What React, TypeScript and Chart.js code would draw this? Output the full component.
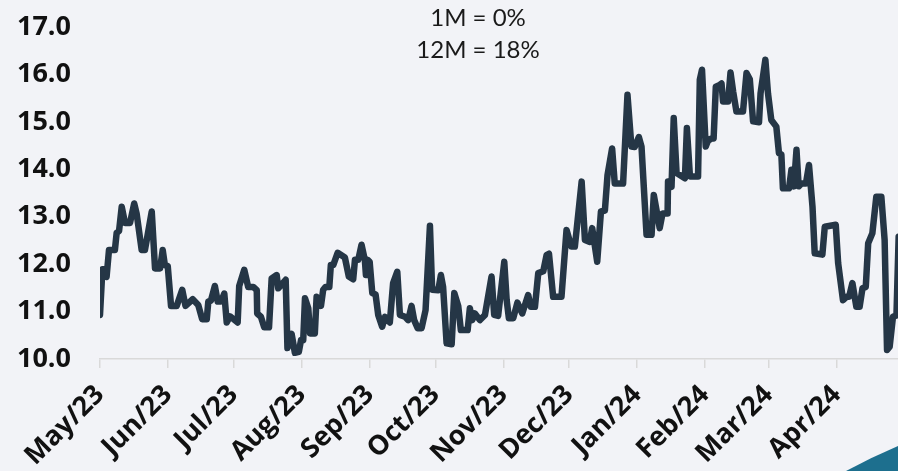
import React, { useEffect, useRef } from "react";
import { Chart, registerables } from "chart.js";

Chart.register(...registerables);

// Days since 1 May 2023 for each vertex of the line
const DAYS = [
  0, 1.1, 2.3, 3.0, 4.1, 6.8, 7.6, 8.7, 9.9, 11.4, 13.7, 15.6, 16.7, 19.0, 20.5, 21.6, 23.6, 25.1, 27.4, 28.6,
  29.6, 30.9, 32.4, 35.0, 37.5, 39.0, 42.3, 44.8, 46.6, 48.7, 49.4, 50.6, 52.4, 53.7, 55.2, 56.7, 57.8, 59.3, 62.8, 63.5,
  65.8, 67.6, 69.9, 71.5, 71.7, 73.4, 74.9, 77.1, 78.3, 80.6, 81.3, 84.7, 85.5, 87.4, 88.9, 90.7, 91.7, 92.7, 93.5, 95.0,
  95.8, 98.0, 98.8, 100.8, 101.8, 102.9, 104.6, 105.3, 106.4, 108.4, 111.7, 113.5, 115.5, 116.3, 117.8, 119.3, 120.8, 121.3, 122.1, 123.0,
  124.2, 125.7, 126.9, 128.7, 130.0, 132.2, 133.7, 135.6, 136.8, 139.1, 140.6, 142.1, 143.3, 144.9, 146.7, 148.5, 150.5, 151.5, 154.3, 155.5,
  156.5, 158.1, 160.4, 161.6, 163.4, 164.6, 167.7, 168.7, 169.8, 171.0, 173.3, 175.6, 178.6, 179.8, 181.6, 184.4, 185.5, 186.5, 188.5, 190.4,
  192.6, 195.3, 196.5, 198.4, 199.9, 202.2, 203.7, 204.8, 206.7, 210.5, 212.8, 215.0, 216.6, 219.7, 221.2, 223.4, 224.5, 226.8, 228.5, 230.3,
  231.5, 233.6, 234.8, 238.6, 240.6, 242.4, 243.9, 245.8, 247.0, 249.3, 251.6, 252.6, 255.3, 256.6, 258.9, 259.1, 260.7, 261.7, 263.0, 266.8,
  267.7, 269.1, 272.8, 273.6, 274.6, 276.3, 277.3, 278.9, 279.9, 280.9, 282.4, 283.5, 284.2, 286.5, 287.6, 288.8, 290.3, 293.3, 294.9, 296.4,
  297.9, 300.6, 301.3, 303.5, 304.7, 306.2, 308.5, 309.7, 310.8, 311.5, 314.3, 315.4, 316.5, 317.7, 318.7, 320.0, 322.0, 323.4, 325.0, 326.0,
  329.5, 330.6, 335.6, 336.7, 338.9, 340.5, 341.7, 343.2, 345.0, 346.5, 347.8, 349.3, 350.4, 352.3, 354.1, 356.4, 357.9, 359.0, 360.2, 361.7,
  363.3, 364.3,
];

const VALUES = [
  10.93, 11.89, 11.89, 11.73, 12.3, 12.3, 12.66, 12.7, 13.21, 12.87, 12.87, 13.28, 13.07, 12.3, 12.3, 12.58, 13.11, 11.91, 11.91, 12.3,
  11.98, 11.96, 11.12, 11.12, 11.46, 11.12, 11.26, 11.14, 10.84, 10.84, 11.21, 11.23, 11.54, 11.21, 11.21, 11.38, 10.77, 10.9, 10.77, 11.54,
  11.88, 11.52, 11.52, 11.45, 10.96, 10.89, 10.67, 10.67, 11.7, 11.77, 11.49, 11.67, 10.23, 10.53, 10.13, 10.15, 10.4, 10.4, 11.28, 11.07,
  10.54, 10.54, 11.31, 11.12, 11.46, 11.52, 11.52, 11.98, 11.98, 12.24, 12.14, 11.74, 11.68, 12.09, 12.09, 12.41, 12.09, 11.77, 12.09, 12.05,
  11.39, 11.36, 10.93, 10.68, 10.89, 10.77, 11.6, 11.84, 10.93, 10.89, 10.82, 11.12, 10.82, 10.65, 10.65, 11.03, 12.81, 11.46, 11.45, 11.77,
  11.52, 10.33, 10.31, 11.39, 11.12, 10.61, 10.61, 11.07, 10.82, 10.96, 10.82, 10.93, 11.74, 10.93, 10.91, 12.05, 11.24, 10.86, 10.86, 11.19,
  10.96, 11.35, 11.1, 11.1, 11.81, 11.85, 12.19, 12.22, 11.31, 11.31, 12.72, 12.37, 12.37, 13.74, 12.51, 12.47, 12.76, 12.05, 13.11, 13.13,
  13.88, 14.44, 13.7, 13.7, 15.57, 14.48, 14.47, 14.68, 14.48, 12.62, 12.62, 13.46, 12.76, 13.07, 13.07, 13.74, 13.63, 15.08, 13.92, 13.81,
  14.87, 13.85, 13.85, 15.89, 16.1, 14.48, 14.6, 14.65, 14.65, 15.74, 15.77, 15.81, 15.43, 15.43, 16.04, 15.64, 15.22, 15.22, 16.03, 15.9,
  15.01, 14.99, 15.6, 16.31, 15.6, 15.04, 14.9, 14.34, 14.31, 13.6, 13.6, 13.99, 13.64, 14.41, 13.64, 13.7, 13.7, 14.09, 13.21, 12.23,
  12.2, 12.79, 12.83, 12.02, 11.24, 11.31, 11.31, 11.6, 11.1, 11.1, 11.49, 11.52, 12.44, 12.65, 13.42, 13.42, 12.51, 10.19, 10.26, 10.89,
  10.92, 12.58,
];

// Month starts (days since 1 May 2023) and their labels
const MONTH_DAYS = [0, 31, 61, 92, 123, 153, 184, 214, 245, 276, 305, 336];
const MONTH_LABELS = [
  "May/23", "Jun/23", "Jul/23", "Aug/23", "Sep/23", "Oct/23",
  "Nov/23", "Dec/23", "Jan/24", "Feb/24", "Mar/24", "Apr/24",
];

const TITLE_LINES = ["1M = 0%", "12M = 18%"];

const BG = "#f2f3f7";
const LINE = "#253646";

export default function App() {
  const ref = useRef<HTMLCanvasElement | null>(null);

  useEffect(() => {
    if (!ref.current) return;
    const bgPlugin = {
      id: "bg",
      beforeDraw(chart: any) {
        const c = chart.ctx;
        c.save();
        c.fillStyle = BG;
        c.fillRect(0, 0, chart.width, chart.height);
        c.restore();
      },
      afterDraw(chart: any) {
        const c = chart.ctx;
        c.save();
        // title text
        c.fillStyle = "#1a1a1a";
        c.font = "24px Lato";
        c.textAlign = "center";
        c.textBaseline = "middle";
        c.fillText(TITLE_LINES[0], 478, 18);
        c.fillText(TITLE_LINES[1], 478, 50);
        // decorative corner wedge
        const w = chart.width, h = chart.height;
        c.fillStyle = "#1d6f8e";
        c.beginPath();
        c.moveTo(w - 52, h);
        c.quadraticCurveTo(w - 26, h - 14, w, h - 25);
        c.lineTo(w, h);
        c.closePath();
        c.fill();
        c.restore();
      },
    };

    const chart = new Chart(ref.current, {
      type: "line",
      data: {
        datasets: [
          {
            data: DAYS.map((d, i) => ({ x: d, y: VALUES[i] })),
            borderColor: LINE,
            borderWidth: 6.5,
            borderJoinStyle: "round",
            borderCapStyle: "round",
            pointRadius: 0,
            tension: 0,
            fill: false,
          },
        ],
      },
      options: {
        animation: false,
        responsive: true,
        maintainAspectRatio: false,
        layout: { padding: { top: 27, right: 0, left: 0, bottom: 0 } },
        plugins: { legend: { display: false }, tooltip: { enabled: false }, title: { display: false } },
        scales: {
          x: {
            type: "linear",
            min: 0,
            max: 364,
            afterBuildTicks(scale: any) {
              scale.ticks = MONTH_DAYS.map((v) => ({ value: v }));
            },
            afterFit(scale: any) {
              scale.height = 112;
            },
            grid: { drawOnChartArea: false, color: "#d9d9d9", lineWidth: 1.5, tickLength: 9 },
            border: { color: "#d9d9d9", width: 1.5 },
            ticks: {
              autoSkip: false,
              maxRotation: 45,
              minRotation: 45,
              padding: 11,
              color: "#111",
              font: { family: "'Open Sans'", size: 27, weight: "bold" },
              callback: (_v: any, i: number) => MONTH_LABELS[i],
            },
          },
          y: {
            min: 10,
            max: 17,
            afterFit(scale: any) {
              scale.width = 100;
            },
            grid: { display: false, drawTicks: true, tickLength: 26 },
            border: { display: false },
            ticks: {
              stepSize: 1,
              padding: 3,
              color: "#111",
              font: { family: "'Open Sans'", size: 27, weight: "bold" },
              callback: (v: any) => Number(v).toFixed(1),
            },
          },
        },
      },
      plugins: [bgPlugin],
    } as any);
    return () => chart.destroy();
  }, []);

  return (
    <div style={{ position: "fixed", left: 0, top: 0, width: 898, height: 471, background: BG }}>
      <canvas ref={ref} />
    </div>
  );
}
